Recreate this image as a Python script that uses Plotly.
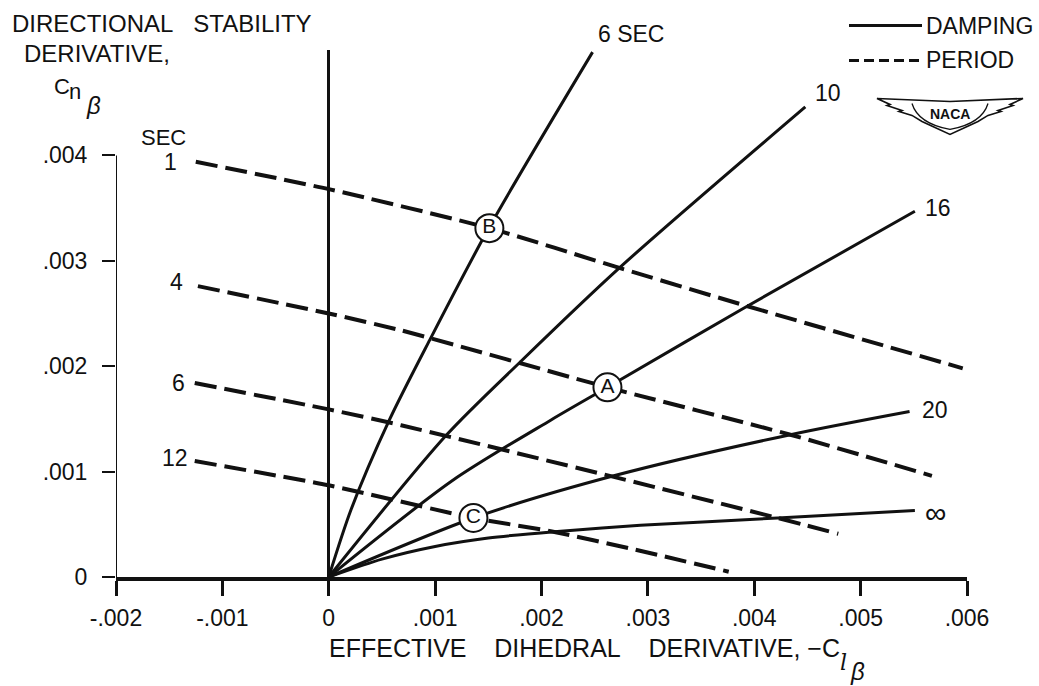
import plotly.graph_objects as go

# ---- damping boundaries (solid): x = -C_l_beta, y = C_n_beta ----
damp_6_x = [0.0, 0.00021, 0.00057, 0.00095, 0.00151, 0.00248]
damp_6_y = [0.0, 0.00064, 0.00149, 0.00225, 0.00332, 0.00498]

damp_10_x = [0.0, 0.00110, 0.00180, 0.00274, 0.00448]
damp_10_y = [0.0, 0.00134, 0.00204, 0.00294, 0.00446]

damp_16_x = [0.0, 0.00117, 0.00209, 0.00262, 0.00390, 0.00551]
damp_16_y = [0.0, 0.00092, 0.00149, 0.00180, 0.00255, 0.00347]

damp_20_x = [0.0, 0.00136, 0.00268, 0.00434, 0.00546]
damp_20_y = [0.0, 0.00056, 0.00096, 0.00135, 0.00157]

damp_inf_x = [0.0, 0.00050, 0.00100, 0.00150, 0.00212, 0.00293, 0.00422, 0.00551]
damp_inf_y = [0.0, 0.00017, 0.00029, 0.00037, 0.00043, 0.00049, 0.00056, 0.00063]

damping_labels = ["6 SEC", "10", "16", "20", "\u221e"]

# ---- period lines (dashed) ----
period_1_x = [-0.00125, 0.0, 0.00151, 0.00274, 0.00390, 0.00596]
period_1_y = [0.00394, 0.00368, 0.00331, 0.00293, 0.00258, 0.00198]

period_4_x = [-0.00123, 0.0, 0.00068, 0.00262, 0.00434, 0.00567]
period_4_y = [0.00276, 0.00250, 0.00234, 0.00180, 0.00135, 0.00096]

period_6_x = [-0.00126, 0.0, 0.00068, 0.00268, 0.00422, 0.00479]
period_6_y = [0.00184, 0.00159, 0.00144, 0.00095, 0.00056, 0.00041]

period_12_x = [-0.00126, 0.0, 0.00136, 0.00211, 0.00288, 0.00376]
period_12_y = [0.00110, 0.00087, 0.00056, 0.00043, 0.00026, 0.00005]

period_labels = ["1", "4", "6", "12"]

# ---- marked airplane conditions ----
point_names = ["A", "B", "C"]
point_x = [0.00262, 0.00151, 0.00136]
point_y = [0.00180, 0.00331, 0.00056]

# ---- axes ----
x_ticks = [-0.002, -0.001, 0.0, 0.001, 0.002, 0.003, 0.004, 0.005, 0.006]
x_tick_text = ["-.002", "-.001", "0", ".001", ".002", ".003", ".004", ".005", ".006"]
y_ticks = [0.0, 0.001, 0.002, 0.003, 0.004]
y_tick_text = ["0", ".001", ".002", ".003", ".004"]
X_RANGE = [-0.002, 0.006]
Y_RANGE = [0.0, 0.005]

# ---- page geometry ----
W, H = 1039, 686
ML, MR, MT, MB = 116, 72, 49.5, 109
PW = W - ML - MR
PH = H - MT - MB
FONT = "Liberation Sans, Arial, sans-serif"
INK = "#111111"


def fx(p):
    return (p - ML) / PW


def fy(p):
    return (H - MB - p) / PH


fig = go.Figure()

damping = [
    (damp_6_x, damp_6_y), (damp_10_x, damp_10_y), (damp_16_x, damp_16_y),
    (damp_20_x, damp_20_y), (damp_inf_x, damp_inf_y),
]
periods = [
    (period_1_x, period_1_y), (period_4_x, period_4_y),
    (period_6_x, period_6_y), (period_12_x, period_12_y),
]

for xs, ys in periods:
    fig.add_trace(go.Scatter(
        x=xs, y=ys, mode="lines",
        line=dict(color=INK, width=4, dash="22px,8px", shape="spline", smoothing=0.6),
        showlegend=False, hoverinfo="skip",
    ))

for xs, ys in damping:
    fig.add_trace(go.Scatter(
        x=xs, y=ys, mode="lines",
        line=dict(color=INK, width=3, shape="spline", smoothing=0.8),
        showlegend=False, hoverinfo="skip",
    ))

fig.add_trace(go.Scatter(
    x=point_x, y=point_y, mode="markers+text", text=point_names,
    textposition="middle center",
    textfont=dict(family=FONT, size=21, color=INK),
    marker=dict(size=28, color="white", line=dict(color=INK, width=2)),
    cliponaxis=False, showlegend=False, hoverinfo="skip",
))

annotations = []

# labels at the outer ends of the damping lines
damp_label_shift = [(3, 18), (8, 14), (8, 3), (10, 2), (8, -2)]
for (xs, ys), lab, (dx, dy) in zip(damping, damping_labels, damp_label_shift):
    annotations.append(dict(
        x=xs[-1], y=ys[-1], xref="x", yref="y", text=lab, showarrow=False,
        xanchor="left", yanchor="middle", xshift=dx, yshift=dy,
        font=dict(family=FONT, size=23 if lab != "\u221e" else 30, color=INK),
    ))

# labels at the left ends of the period lines
period_label_shift = [(-17, 0), (-13, 4), (-8, 0), (-5, 3)]
for (xs, ys), lab, (dx, dy) in zip(periods, period_labels, period_label_shift):
    annotations.append(dict(
        x=xs[0], y=ys[0], xref="x", yref="y", text=lab, showarrow=False,
        xanchor="right", yanchor="middle", xshift=dx, yshift=dy,
        font=dict(family=FONT, size=23, color=INK),
    ))
annotations.append(dict(
    x=period_1_x[0], y=period_1_y[0], xref="x", yref="y", text="SEC",
    showarrow=False, xanchor="right", yanchor="middle", xshift=-8, yshift=24,
    font=dict(family=FONT, size=22, color=INK),
))

# y-axis title block
NB = "\u00a0"
annotations += [
    dict(x=fx(10), y=fy(23), xref="paper", yref="paper",
         text="DIRECTIONAL" + NB * 3 + "STABILITY", showarrow=False,
         xanchor="left", yanchor="middle", font=dict(family=FONT, size=24, color=INK)),
    dict(x=fx(22), y=fy(53), xref="paper", yref="paper", text="DERIVATIVE,",
         showarrow=False, xanchor="left", yanchor="middle",
         font=dict(family=FONT, size=24, color=INK)),
    dict(x=fx(52), y=fy(86), xref="paper", yref="paper", text="C",
         showarrow=False, xanchor="left", yanchor="middle",
         font=dict(family=FONT, size=22, color=INK)),
    dict(x=fx(67), y=fy(91), xref="paper", yref="paper", text="n",
         showarrow=False, xanchor="left", yanchor="middle",
         font=dict(family=FONT, size=22, color=INK)),
    dict(x=fx(84), y=fy(105), xref="paper", yref="paper", text="<i>\u03b2</i>",
         showarrow=False, xanchor="left", yanchor="middle",
         font=dict(family=FONT, size=24, color=INK)),
]

# x-axis title block
annotations += [
    dict(x=fx(327), y=fy(648), xref="paper", yref="paper",
         text="EFFECTIVE" + NB * 4 + "DIHEDRAL" + NB * 4 + "DERIVATIVE," + NB + "\u2212C",
         showarrow=False, xanchor="left", yanchor="middle",
         font=dict(family=FONT, size=25, color=INK)),
    dict(x=fx(838), y=fy(663), xref="paper", yref="paper", text="<i>l</i>",
         showarrow=False, xanchor="left", yanchor="middle",
         font=dict(family="DejaVu Serif, serif", size=22, color=INK)),
    dict(x=fx(848), y=fy(672), xref="paper", yref="paper", text="<i>\u03b2</i>",
         showarrow=False, xanchor="left", yanchor="middle",
         font=dict(family=FONT, size=24, color=INK)),
]

# key
annotations += [
    dict(x=fx(924), y=fy(25), xref="paper", yref="paper", text="DAMPING",
         showarrow=False, xanchor="left", yanchor="middle",
         font=dict(family=FONT, size=23, color=INK)),
    dict(x=fx(924), y=fy(60), xref="paper", yref="paper", text="PERIOD",
         showarrow=False, xanchor="left", yanchor="middle",
         font=dict(family=FONT, size=23, color=INK)),
    dict(x=fx(950), y=fy(114), xref="paper", yref="paper", text="<b>NACA</b>",
         showarrow=False, xanchor="center", yanchor="middle",
         font=dict(family=FONT, size=14, color=INK)),
]

shapes = [
    # left frame of the Cn axis, up to the top tick
    dict(type="line", xref="x", yref="y", x0=X_RANGE[0], x1=X_RANGE[0],
         y0=y_ticks[0], y1=y_ticks[-1], line=dict(color=INK, width=2)),
    # key samples
    dict(type="line", xref="paper", yref="paper", x0=fx(849), x1=fx(922),
         y0=fy(25), y1=fy(25), line=dict(color=INK, width=3)),
    dict(type="line", xref="paper", yref="paper", x0=fx(849), x1=fx(922),
         y0=fy(60), y1=fy(60), line=dict(color=INK, width=3, dash="10px,5px")),
]

# winged emblem
wing_px = [
    (877, 98), (950, 101), (1023, 98), (1010, 104), (1013, 105), (998, 110), (1001, 111),
    (988, 115), (978, 121), (965, 127), (950, 134), (935, 127), (922, 121),
    (912, 115), (899, 111), (902, 110), (887, 105), (890, 104),
]
wing_path = "M " + " L ".join(f"{fx(a):.5f},{fy(b):.5f}" for a, b in wing_px) + " Z"
shield_path = (f"M {fx(912):.5f},{fy(103):.5f} "
               f"Q {fx(918):.5f},{fy(123):.5f} {fx(950):.5f},{fy(129):.5f} "
               f"Q {fx(982):.5f},{fy(123):.5f} {fx(988):.5f},{fy(103):.5f}")
shapes += [
    dict(type="path", xref="paper", yref="paper", path=wing_path,
         line=dict(color=INK, width=1.6), fillcolor="white"),
    dict(type="path", xref="paper", yref="paper", path=shield_path,
         line=dict(color=INK, width=1.3)),
]

fig.update_layout(
    width=W, height=H, autosize=False,
    margin=dict(l=ML, r=MR, t=MT, b=MB, pad=0),
    paper_bgcolor="white", plot_bgcolor="white",
    showlegend=False,
    annotations=annotations, shapes=shapes,
    xaxis=dict(
        range=X_RANGE, tickmode="array", tickvals=x_ticks, ticktext=x_tick_text,
        ticks="outside", ticklen=15, tickwidth=2.5, tickcolor=INK,
        showline=True, linewidth=3.5, linecolor=INK,
        zeroline=True, zerolinewidth=3, zerolinecolor=INK,
        showgrid=False, ticklabelstandoff=3,
        tickfont=dict(family=FONT, size=23, color=INK),
    ),
    yaxis=dict(
        range=Y_RANGE, tickmode="array", tickvals=y_ticks, ticktext=y_tick_text,
        ticks="outside", ticklen=13, tickwidth=2, tickcolor=INK,
        showline=False, zeroline=False, showgrid=False, ticklabelstandoff=10,
        tickfont=dict(family=FONT, size=23, color=INK),
    ),
)

fig.write_html("out.html")
